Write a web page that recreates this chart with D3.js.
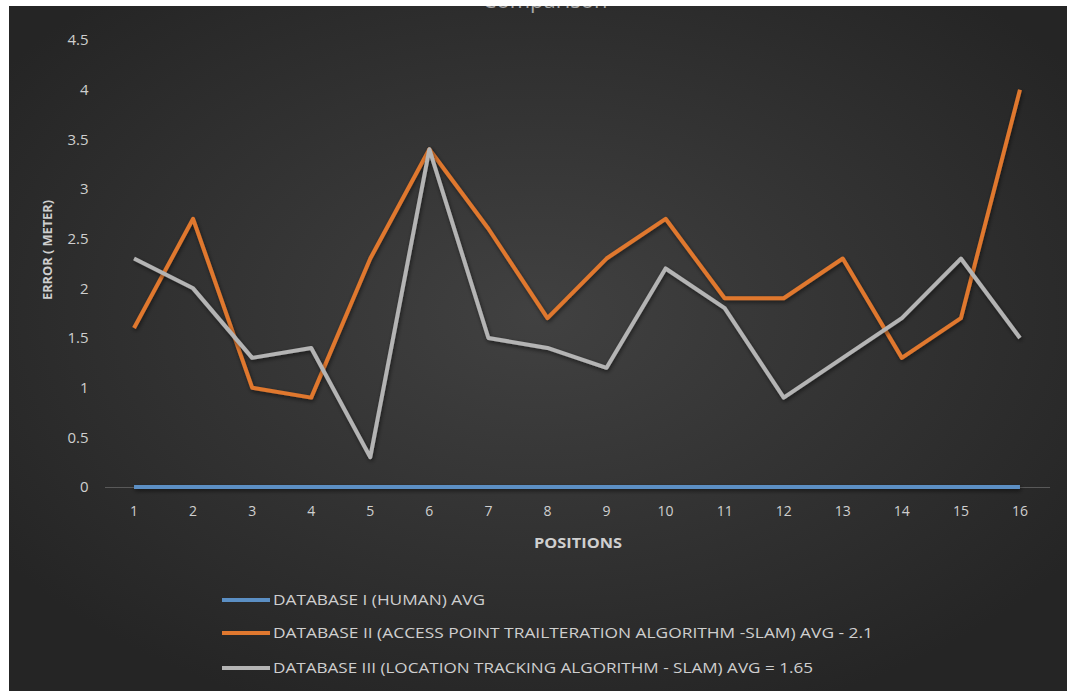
<!DOCTYPE html>
<html lang="en">
<head>
<meta charset="UTF-8">
<title>Error by position</title>
<script src="https://d3js.org/d3.v7.min.js"></script>
<style>
  html, body { margin: 0; padding: 0; background: #fff; }
  svg { display: block; }
</style>
</head>
<body>
<div id="chart"></div>
<script>
// chart data
const positions = d3.range(1, 17);
const yTicks = [0, 0.5, 1, 1.5, 2, 2.5, 3, 3.5, 4, 4.5];
const seriesNames = [
  "DATABASE I (HUMAN) AVG",
  "DATABASE II (ACCESS POINT TRAILTERATION ALGORITHM -SLAM) AVG - 2.1",
  "DATABASE III (LOCATION TRACKING ALGORITHM - SLAM) AVG = 1.65"
];
const humanValues = [0, 0, 0, 0, 0, 0, 0, 0, 0, 0, 0, 0, 0, 0, 0, 0];
const trilaterationValues = [1.6, 2.7, 1.0, 0.9, 2.3, 3.4, 2.6, 1.7, 2.3, 2.7, 1.9, 1.9, 2.3, 1.3, 1.7, 4.0];
const trackingValues = [2.3, 2.0, 1.3, 1.4, 0.3, 3.4, 1.5, 1.4, 1.2, 2.2, 1.8, 0.9, 1.3, 1.7, 2.3, 1.5];
const seriesColors = ["#5b8fc4", "#e0782f", "#b4b4b4"];

const width = 1067, height = 691;
const plot = { left: 104.5, right: 1049.5, top: 40, bottom: 487 };
const font = "'Open Sans', 'Noto Sans', sans-serif";
const textColor = "#cfcfcf";

const svg = d3.select("#chart").append("svg")
  .attr("width", width)
  .attr("height", height);

const defs = svg.append("defs");
const grad = defs.append("radialGradient")
  .attr("id", "bg")
  .attr("cx", "0.5").attr("cy", "0.45").attr("r", "0.62");
grad.append("stop").attr("offset", "0%").attr("stop-color", "#414141");
grad.append("stop").attr("offset", "100%").attr("stop-color", "#252525");

// user space units so the flat zero line still gets rendered
const shadow = defs.append("filter").attr("id", "shadow")
  .attr("filterUnits", "userSpaceOnUse")
  .attr("x", 0).attr("y", 0).attr("width", width).attr("height", height);
shadow.append("feDropShadow")
  .attr("dx", 1).attr("dy", 2).attr("stdDeviation", 2)
  .attr("flood-color", "#000").attr("flood-opacity", 0.55);

// background
svg.append("rect").attr("width", width).attr("height", height).attr("fill", "#fff");
svg.append("rect")
  .attr("x", 9).attr("y", 6)
  .attr("width", width - 9).attr("height", height - 6)
  .attr("fill", "url(#bg)");

// title, cut off by the top edge in the original
svg.append("text")
  .attr("x", 545).attr("y", 8)
  .attr("text-anchor", "middle")
  .style("font-family", font)
  .style("font-size", "22px")
  .style("fill", "#a8a8a8")
  .text("Comparison");
svg.append("rect").attr("width", width).attr("height", 6).attr("fill", "#fff");

// scales
const x = d3.scaleBand()
  .domain(positions)
  .range([plot.left, plot.right]);
const y = d3.scaleLinear()
  .domain([0, 4.5])
  .range([plot.bottom, plot.top]);

// x axis
const xAxis = svg.append("g")
  .attr("transform", `translate(0,${plot.bottom})`)
  .call(d3.axisBottom(x).tickSize(0).tickPadding(19));
xAxis.select(".domain").attr("stroke", "#595959").attr("stroke-width", 1);
xAxis.selectAll("text")
  .style("font-family", font)
  .style("font-size", "14px")
  .style("fill", textColor);

// y axis
const yAxis = svg.append("g")
  .attr("transform", `translate(${plot.left},0)`)
  .call(d3.axisLeft(y).tickValues(yTicks).tickSize(0).tickPadding(16)
    .tickFormat(d => String(d)));
yAxis.select(".domain").remove();
yAxis.selectAll("text")
  .style("font-family", font)
  .style("font-size", "15px")
  .style("fill", textColor);

// axis titles
svg.append("text")
  .attr("transform", "rotate(-90)")
  .attr("x", -250).attr("y", 52)
  .attr("text-anchor", "middle")
  .attr("textLength", 100)
  .attr("lengthAdjust", "spacingAndGlyphs")
  .style("font-family", font)
  .style("font-size", "13px")
  .style("font-weight", "bold")
  .style("fill", textColor)
  .text("ERROR ( METER)");

svg.append("text")
  .attr("x", 578).attr("y", 548)
  .attr("text-anchor", "middle")
  .attr("textLength", 88)
  .attr("lengthAdjust", "spacingAndGlyphs")
  .style("font-family", font)
  .style("font-size", "14px")
  .style("font-weight", "bold")
  .style("fill", textColor)
  .text("POSITIONS");

// lines
const allSeries = [humanValues, trilaterationValues, trackingValues];
const line = d3.line()
  .x((d, i) => x(positions[i]) + x.bandwidth() / 2)
  .y(d => y(d));

svg.append("g").selectAll("path")
  .data(allSeries)
  .join("path")
  .attr("d", line)
  .attr("fill", "none")
  .attr("stroke", (d, i) => seriesColors[i])
  .attr("stroke-width", 4)
  .attr("stroke-linejoin", "round")
  .attr("filter", "url(#shadow)");

// legend
const legendRows = [600, 633, 668];
const legendWidths = [212, 600, 540];
const legend = svg.append("g").selectAll("g")
  .data(seriesNames)
  .join("g")
  .attr("transform", (d, i) => `translate(222,${legendRows[i]})`);
legend.append("line")
  .attr("x1", 0).attr("x2", 48)
  .attr("stroke", (d, i) => seriesColors[i])
  .attr("stroke-width", 4);
legend.append("text")
  .attr("x", 51).attr("dy", "0.35em")
  .attr("textLength", (d, i) => legendWidths[i])
  .attr("lengthAdjust", "spacingAndGlyphs")
  .style("font-family", font)
  .style("font-size", "14px")
  .style("fill", textColor)
  .text(d => d);
</script>
</body>
</html>
